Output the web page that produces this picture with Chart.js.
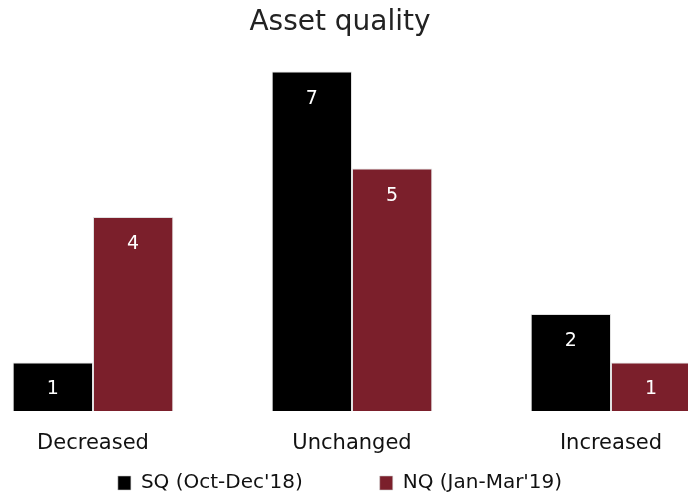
<!DOCTYPE html>
<html lang="en">
<head>
    <meta charset="UTF-8">
    <title>Asset quality</title>
    <script src="https://cdn.jsdelivr.net/npm/chart.js"></script>
    <style>
        html, body { margin: 0; padding: 0; background: #fff; }
        #wrap { width: 688px; height: 496px; }
    </style>
</head>
<body>
<div id="wrap"><canvas id="myChart"></canvas></div>

<script>
    const categories = ['Decreased', 'Unchanged', 'Increased'];
    const sqLabel = "SQ (Oct-Dec'18)";
    const nqLabel = "NQ (Jan-Mar'19)";
    const sqValues = [1, 7, 2];
    const nqValues = [4, 5, 1];

    const FONT = "'DejaVu Sans', sans-serif";

    // white numbers just under the top of each bar
    const barValues = {
        id: 'barValues',
        afterDatasetsDraw(chart) {
            const ctx = chart.ctx;
            ctx.save();
            ctx.fillStyle = '#ffffff';
            ctx.font = '19px ' + FONT;
            ctx.textAlign = 'center';
            ctx.textBaseline = 'middle';
            chart.data.datasets.forEach((ds, i) => {
                const meta = chart.getDatasetMeta(i);
                if (meta.hidden) return;
                meta.data.forEach((bar, j) => {
                    ctx.fillText(ds.data[j], bar.x, bar.y + 27);
                });
            });
            ctx.restore();
        }
    };

    const ctx = document.getElementById('myChart').getContext('2d');

    new Chart(ctx, {
        type: 'bar',
        data: {
            labels: categories,
            datasets: [
                {
                    label: sqLabel,
                    data: sqValues,
                    backgroundColor: '#000000',
                    borderColor: 'rgba(200,200,200,0.55)',
                    borderWidth: 1,
                    clip: false
                },
                {
                    label: nqLabel,
                    data: nqValues,
                    backgroundColor: '#7b1f2b',
                    borderColor: 'rgba(200,200,200,0.55)',
                    borderWidth: 1,
                    clip: false
                }
            ]
        },
        options: {
            responsive: true,
            maintainAspectRatio: false,
            animation: false,
            categoryPercentage: 0.62,
            barPercentage: 1.0,
            layout: {
                padding: { left: 69, right: 77, top: 0, bottom: 0 }
            },
            plugins: {
                title: {
                    display: true,
                    text: 'Asset quality',
                    color: '#222222',
                    font: { family: FONT, size: 28, weight: 'normal' },
                    padding: { top: 6, bottom: 32 }
                },
                legend: {
                    position: 'bottom',
                    maxHeight: 40,
                    labels: {
                        color: '#111111',
                        font: { family: FONT, size: 20 },
                        boxWidth: 13,
                        boxHeight: 14,
                        padding: 17,
                        // wider gap between the two entries, as in the original
                        generateLabels(chart) {
                            const items = Chart.defaults.plugins.legend.labels.generateLabels(chart);
                            items.forEach((it, k) => {
                                if (k < items.length - 1) it.text += '\u2003\u2003\u2003';
                            });
                            return items;
                        }
                    }
                },
                tooltip: { enabled: false }
            },
            scales: {
                x: {
                    offset: false,
                    grid: { display: false, drawTicks: false },
                    border: { display: false },
                    ticks: {
                        color: '#111111',
                        font: { family: FONT, size: 21 },
                        padding: 20,
                        maxRotation: 0
                    },
                    afterFit(scale) { scale.height = 45; }
                },
                y: {
                    min: 0,
                    max: 7,
                    grid: { display: false, drawTicks: false },
                    border: { display: false },
                    ticks: { display: false },
                    afterFit(scale) { scale.width = 24; }
                }
            }
        },
        plugins: [barValues]
    });
</script>
</body>
</html>
